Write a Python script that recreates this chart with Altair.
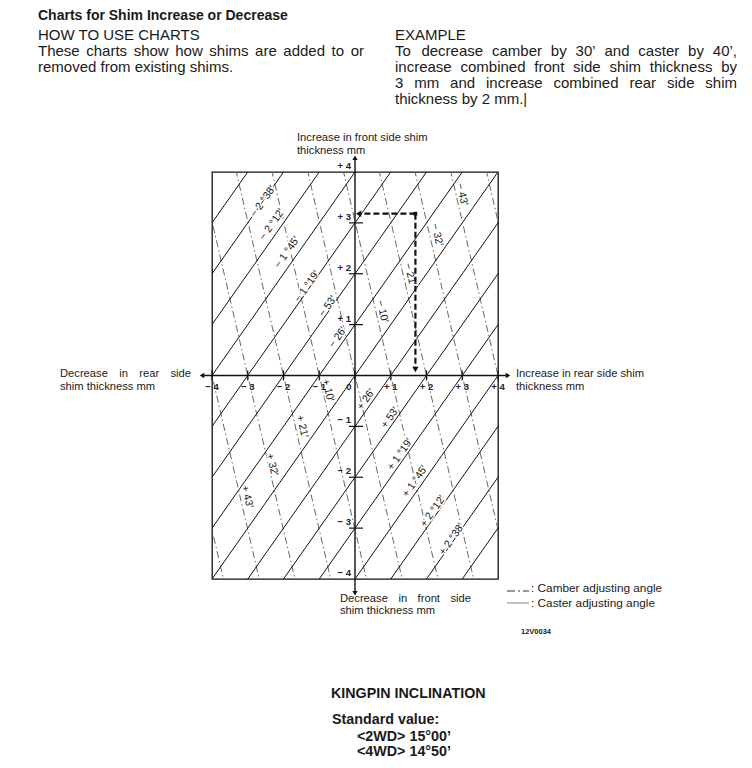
import altair as alt
import pandas as pd

# ---------------- values ----------------
# solid lines: rear - front = k (mm)
solid_offsets = [-7, -6, -5, -4, -3, -2, -1, 0, 1, 2, 3, 4, 5, 6, 7]
# dash-dot lines: rear + tilt * front = c (mm)
dashdot_offsets = [-5, -4, -3, -2, -1, 0, 1, 2, 3, 4, 5]
dashdot_tilt = 0.33

solid_labels = ["− 2 °38′", "− 2 °12′", "− 1 °45′", "− 1 °19′", "− 53′", "− 26′",
                "+ 26′", "+ 53′", "+ 1 °19′", "+ 1 °45′", "+ 2 °12′", "+ 2 °38′"]
solid_label_x = [-2.57, -2.32, -1.90, -1.34, -0.76, -0.48, 0.31, 0.98, 1.26, 1.68, 2.18, 2.71]
solid_label_y = [3.42, 2.97, 2.42, 1.75, 1.36, 0.75, -0.47, -0.83, -1.55, -2.08, -2.67, -3.22]

dashdot_labels = ["− 43′", "− 32′", "− 21′", "− 10′", "+ 10′", "+ 21′", "+ 32′", "+ 43′"]
dashdot_label_x = [2.99, 2.29, 1.54, 0.76, -0.76, -1.48, -2.32, -3.02]
dashdot_label_y = [3.56, 2.77, 1.99, 1.26, -0.29, -1.00, -1.75, -2.38]

x_ticks = [-4, -3, -2, -1, 0, 1, 2, 3, 4]
x_tick_labels = ["− 4", "− 3", "− 2", "− 1", "0", "+ 1", "+ 2", "+ 3", "+ 4"]
x_tick_label_pos = [-4, -3, -2, -1, -0.17, 1, 2, 3, 4]
y_ticks = [4, 3, 2, 1, -1, -2, -3, -4]
y_tick_labels = ["+ 4", "+ 3", "+ 2", "+ 1", "− 1", "− 2", "− 3", "− 4"]

axis_reach = 4.28          # arrows run a little past the box
example_rear = 1.69        # example point (rear mm, front mm)
example_front = 3.18

# text blocks: (text, page x, page y centre, justified width or 0)
header_bold = [("Charts for Shim Increase or Decrease", 38, 16, 0)]
header_text = [("HOW TO USE CHARTS", 38, 35, 0),
               ("These charts show how shims are added to or", 38, 51, 326),
               ("removed from existing shims.", 38, 67, 0),
               ("EXAMPLE", 395, 35, 0),
               ("To decrease camber by 30’ and caster by 40’,", 395, 51, 342),
               ("increase combined front side shim thickness by", 395, 67, 342),
               ("3 mm and increase combined rear side shim", 395, 83, 342),
               ("thickness by 2 mm.|", 395, 99, 0)]
axis_titles = [("Increase in front side shim", 297, 138, 0), ("thickness mm", 297, 151, 0),
               ("Decrease in rear side", 60, 374, 131), ("shim thickness mm", 60, 387, 0),
               ("Increase in rear side shim", 516, 374, 0), ("thickness mm", 516, 387, 0),
               ("Decrease in front side", 340, 599, 131), ("shim thickness mm", 340, 611, 0)]
legend_text = [(": Camber adjusting angle", 531, 588, 0), (": Caster adjusting angle", 531, 603, 0)]
code_text = [("12V0034", 521, 632, 0)]
footer_text = [("KINGPIN INCLINATION", 331, 694, 0), ("Standard value:", 332, 720, 0),
               ("<2WD> 15°00’", 357, 737, 0), ("<4WD> 14°50’", 357, 752, 0)]

# ---------------- layout ----------------
BOX_LEFT, BOX_TOP = 212, 172
W, H = 286, 407
PAGE_W, PAGE_H = 736, 752
FONT = "Liberation Sans"

# Arial / Liberation Sans advance widths (1/1000 em) for word justification
_AW = {" ": 278, ",": 278, ".": 278, ":": 278, "’": 222, "'": 191, "|": 260, "<": 584, ">": 584,
       "°": 400, "−": 584, "+": 584}
_AW.update({d: 556 for d in "0123456789"})
_AW.update(dict(zip("abcdefghijklmnopqrstuvwxyz",
                    [556, 556, 500, 556, 556, 278, 556, 556, 222, 222, 500, 222, 833, 556, 556,
                     556, 556, 333, 500, 278, 556, 500, 722, 500, 500, 500])))
_AW.update(dict(zip("ABCDEFGHIJKLMNOPQRSTUVWXYZ",
                    [667, 667, 722, 722, 667, 611, 778, 722, 278, 500, 667, 556, 833, 722, 778,
                     667, 778, 722, 667, 611, 722, 667, 944, 667, 667, 611])))


def tw(s, size):
    return sum(_AW.get(ch, 556) for ch in s) * size / 1000.0


def expand(rows, size):
    out = []
    for text, x, y, jw in rows:
        if not jw:
            out.append((text, x, y))
            continue
        words = text.split(" ")
        widths = [tw(w, size) for w in words]
        gap = (jw - sum(widths)) / (len(words) - 1)
        cx = x
        for w, wd in zip(words, widths):
            out.append((w, cx, y))
            cx += wd + gap
    return out


xs = alt.Scale(domain=[-4, 4], nice=False, zero=False)
ys = alt.Scale(domain=[-4, 4], nice=False, zero=False)


def X(f):
    return alt.X(f, type="quantitative", scale=xs, axis=None)


def Y(f):
    return alt.Y(f, type="quantitative", scale=ys, axis=None)


# grid lines
solid_rows = []
for k in solid_offsets:
    for yv in (-4.6, 4.6):
        solid_rows.append({"k": k, "x": yv + k, "y": yv})
dash_rows = []
for c in dashdot_offsets:
    for yv in (-4.6, 4.6):
        dash_rows.append({"c": c, "x": c - dashdot_tilt * yv, "y": yv})

solid_lines = alt.Chart(pd.DataFrame(solid_rows)).mark_line(
    clip=True, color="#111", strokeWidth=1).encode(x=X("x"), y=Y("y"), detail="k:N")
dash_lines = alt.Chart(pd.DataFrame(dash_rows)).mark_line(
    clip=True, color="#666", strokeWidth=1, strokeDash=[7, 3, 1.5, 3]).encode(
    x=X("x"), y=Y("y"), detail="c:N")

# axes
axis_h = alt.Chart(pd.DataFrame({"x": [-axis_reach], "x2": [axis_reach], "y": [0]})).mark_rule(
    color="#111", strokeWidth=1.6).encode(x=X("x"), x2="x2", y=Y("y"))
axis_v = alt.Chart(pd.DataFrame({"y": [-axis_reach], "y2": [axis_reach], "x": [0]})).mark_rule(
    color="#111", strokeWidth=1.4).encode(y=Y("y"), y2="y2", x=X("x"))
arrows = alt.Chart(pd.DataFrame({
    "x": [-axis_reach, axis_reach, 0, 0],
    "y": [0, 0, axis_reach, -axis_reach],
    "s": ["triangle-left", "triangle-right", "triangle-up", "triangle-down"]})).mark_point(
    filled=True, color="#111", size=28, opacity=1).encode(
    x=X("x"), y=Y("y"), shape=alt.Shape("s:N", scale=None))

xt = pd.DataFrame({"x": x_ticks, "lx": x_tick_label_pos, "lab": x_tick_labels})
xtick_marks = alt.Chart(xt).mark_rule(color="#111", strokeWidth=1.2).encode(
    x=X("x"), y=alt.value(H / 2 - 5), y2=alt.value(H / 2 + 5))
xtick_text = alt.Chart(xt).mark_text(font=FONT, fontSize=9.5, fontWeight="bold", color="#222",
                                     baseline="middle", dy=11).encode(
    x=X("lx"), y=alt.value(H / 2), text="lab:N")

yt = pd.DataFrame({"y": y_ticks, "lab": y_tick_labels})
ytick_marks = alt.Chart(yt[(yt.y != 4) & (yt.y != -4)]).mark_rule(color="#111", strokeWidth=1.2).encode(
    y=Y("y"), x=alt.value(W / 2 + 1 - 7), x2=alt.value(W / 2 + 1 + 7))
ytick_text = alt.Chart(yt).mark_text(font=FONT, fontSize=9.5, fontWeight="bold", color="#222",
                                     align="right", baseline="middle", dx=-5, dy=-6).encode(
    y=Y("y"), x=alt.value(W / 2 + 1), text="lab:N")

# line labels with a white halo
sl = pd.DataFrame({"x": solid_label_x, "y": solid_label_y, "t": solid_labels})
dl = pd.DataFrame({"x": dashdot_label_x, "y": dashdot_label_y, "t": dashdot_labels})


def label_layers(df, angle):
    halo = alt.Chart(df).mark_text(font=FONT, fontSize=10.5, angle=angle, color="white",
                                   stroke="white", strokeWidth=3).encode(x=X("x"), y=Y("y"), text="t:N")
    txt = alt.Chart(df).mark_text(font=FONT, fontSize=10.5, angle=angle, color="#111").encode(
        x=X("x"), y=Y("y"), text="t:N")
    return [halo, txt]


# example path
ex_dash = alt.Chart(pd.DataFrame({
    "x": [example_rear, example_rear], "x2": [0.12, example_rear],
    "y": [example_front, example_front], "y2": [example_front, 0.15]})).mark_rule(
    color="#111", strokeWidth=2.2, strokeDash=[6, 3]).encode(x=X("x"), x2="x2", y=Y("y"), y2="y2")
ex_heads = alt.Chart(pd.DataFrame({
    "x": [0.1, example_rear], "y": [example_front, 0.12],
    "s": ["triangle-left", "triangle-down"]})).mark_point(
    filled=True, color="#111", size=40, opacity=1).encode(
    x=X("x"), y=Y("y"), shape=alt.Shape("s:N", scale=None))
ex_corner = alt.Chart(pd.DataFrame({"x": [example_rear], "y": [example_front]})).mark_square(
    color="#111", size=14, opacity=1).encode(x=X("x"), y=Y("y"))


def text_layer(rows, size, weight="normal", color="#1a1a1a"):
    rows = expand(rows, size)
    df = pd.DataFrame({"t": [r[0] for r in rows],
                       "px": [r[1] - BOX_LEFT for r in rows],
                       "py": [r[2] - BOX_TOP for r in rows]})
    return alt.Chart(df).mark_text(font=FONT, fontSize=size, fontWeight=weight, color=color,
                                   align="left", baseline="middle").encode(
        x=alt.X("px:Q", scale=None, axis=None), y=alt.Y("py:Q", scale=None, axis=None), text="t:N")


# legend glyphs (pixel positions)
leg = pd.DataFrame({"x1": [507 - BOX_LEFT, 507 - BOX_LEFT], "x2": [529 - BOX_LEFT, 529 - BOX_LEFT],
                    "y": [591 - BOX_TOP, 603 - BOX_TOP], "k": ["camber", "caster"]})
leg_camber = alt.Chart(leg[leg.k == "camber"]).mark_rule(color="#333", strokeWidth=1.2,
                                                        strokeDash=[8, 3, 2, 3]).encode(
    x=alt.X("x1:Q", scale=None, axis=None), x2="x2:Q", y=alt.Y("y:Q", scale=None, axis=None))
leg_caster = alt.Chart(leg[leg.k == "caster"]).mark_rule(color="#999", strokeWidth=1.2).encode(
    x=alt.X("x1:Q", scale=None, axis=None), x2="x2:Q", y=alt.Y("y:Q", scale=None, axis=None))

layers = [dash_lines, solid_lines] + label_layers(sl, 305) + label_layers(dl, 77) + [
    axis_h, axis_v, arrows, xtick_marks, ytick_marks, xtick_text, ytick_text,
    ex_dash, ex_heads, ex_corner,
    text_layer(header_bold, 14, "bold"),
    text_layer(header_text, 15),
    text_layer(axis_titles, 11.2),
    text_layer(legend_text, 11.8),
    text_layer(code_text, 7.5, "bold"),
    text_layer(footer_text, 14.3, "bold"),
    leg_camber, leg_caster]

chart = alt.layer(*layers).properties(
    width=W, height=H,
    padding={"left": BOX_LEFT - 8, "top": BOX_TOP - 8,
             "right": PAGE_W - (BOX_LEFT - 8) - W, "bottom": PAGE_H - (BOX_TOP - 8) - H},
    autosize=alt.AutoSizeParams(type="none"),
    background="white",
).configure_view(stroke="#111", strokeWidth=1.3)

chart.save("out.html", embed_options={"renderer": "svg", "actions": False})
